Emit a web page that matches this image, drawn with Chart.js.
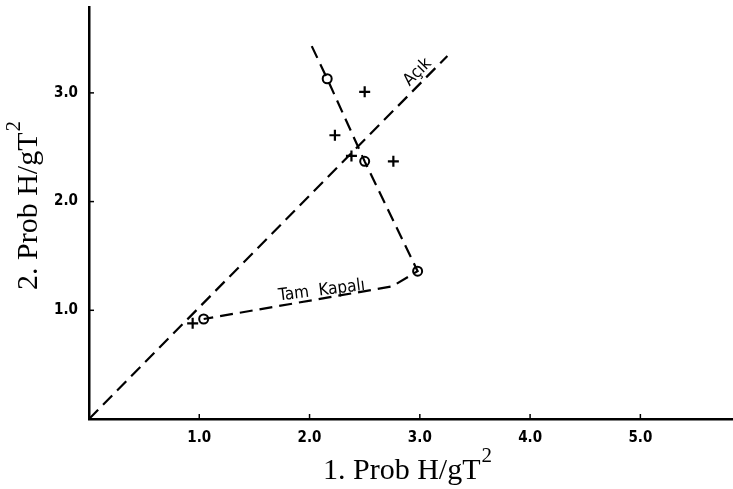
<!DOCTYPE html>
<html>
<head>
<meta charset="utf-8">
<script src="https://cdn.jsdelivr.net/npm/chart.js@4/dist/chart.umd.min.js"></script>
<style>
  html, body { margin: 0; padding: 0; background: #fff; overflow: hidden; }
  #chart { display: block; }
</style>
</head>
<body>
<canvas id="chart" width="733" height="489"></canvas>
<script>
// Axis ticks
const xTickValues = [1, 2, 3, 4, 5];
const xTickLabels = ['1.0', '2.0', '3.0', '4.0', '5.0'];
const yTickValues = [1, 2, 3];
const yTickLabels = ['1.0', '2.0', '3.0'];

// "Açık" line, from the origin
const acikX = [0, 3.25];
const acikY = [0, 3.34];

// "Tam Kapalı" line
const kapaliX = [2.02, 2.16, 2.50, 2.98, 2.75, 1.04];
const kapaliY = [3.43, 3.13, 2.37, 1.36, 1.22, 0.92];

// open circles
const circleX = [2.16, 2.50, 2.98, 1.04];
const circleY = [3.13, 2.37, 1.36, 0.92];

// plus markers
const plusX = [2.50, 2.23, 2.38, 2.76, 0.94];
const plusY = [3.01, 2.61, 2.42, 2.37, 0.88];

function toPoints(xs, ys) {
  return xs.map((x, i) => ({ x: x, y: ys[i] }));
}

const tickFont = { family: '"DejaVu Sans Condensed", "DejaVu Sans", sans-serif', size: 15, weight: 'bold' };
const serif = '"Liberation Serif", "Times New Roman", serif';

function noScalePadding(scale) {
  scale.paddingTop = 0;
  scale.paddingBottom = 0;
  scale.paddingLeft = 0;
  scale.paddingRight = 0;
}

// short tick marks pointing into the plot
const innerTicks = {
  id: 'innerTicks',
  afterDraw(chart) {
    const ctx = chart.ctx;
    const xs = chart.scales.x, ys = chart.scales.y;
    const area = chart.chartArea;
    ctx.save();
    ctx.strokeStyle = '#000';
    ctx.lineWidth = 1.5;
    xTickValues.forEach(v => {
      const px = xs.getPixelForValue(v);
      ctx.beginPath();
      ctx.moveTo(px, area.bottom);
      ctx.lineTo(px, area.bottom - 5);
      ctx.stroke();
    });
    yTickValues.forEach(v => {
      const py = ys.getPixelForValue(v);
      ctx.beginPath();
      ctx.moveTo(area.left, py);
      ctx.lineTo(area.left + 5, py);
      ctx.stroke();
    });
    ctx.restore();
  }
};

// axis titles with a real superscript "2"
function drawTitle(ctx, main, sup, cx, baseY) {
  ctx.font = '30px ' + serif;
  const w1 = ctx.measureText(main).width;
  ctx.font = '21px ' + serif;
  const w2 = ctx.measureText(sup).width;
  const start = cx - (w1 + w2) / 2;
  ctx.textAlign = 'left';
  ctx.textBaseline = 'alphabetic';
  ctx.font = '30px ' + serif;
  ctx.fillText(main, start, baseY);
  ctx.font = '21px ' + serif;
  ctx.fillText(sup, start + w1 + 1, baseY - 17);
}

const axisTitles = {
  id: 'axisTitles',
  afterDraw(chart) {
    const ctx = chart.ctx;
    const area = chart.chartArea;
    ctx.save();
    ctx.fillStyle = '#000';
    drawTitle(ctx, '1. Prob H/gT', '2', (area.left + area.right) / 2 - 4, 479);
    ctx.translate(37, (area.top + area.bottom) / 2 - 7);
    ctx.rotate(-Math.PI / 2);
    drawTitle(ctx, '2. Prob H/gT', '2', 0, 0);
    ctx.restore();
  }
};

// curve names written along the lines
const curveLabels = {
  id: 'curveLabels',
  afterDatasetsDraw(chart) {
    const ctx = chart.ctx;
    const xs = chart.scales.x, ys = chart.scales.y;
    const items = [
      { text: 'Açık', x: 2.98, y: 3.19, angle: -45 },
      { text: 'Tam  Kapalı', x: 2.11, y: 1.18, angle: -7 }
    ];
    ctx.save();
    ctx.fillStyle = '#000';
    ctx.font = '17px "DejaVu Sans Condensed", "DejaVu Sans", sans-serif';
    ctx.textAlign = 'center';
    ctx.textBaseline = 'middle';
    items.forEach(it => {
      ctx.save();
      ctx.translate(xs.getPixelForValue(it.x), ys.getPixelForValue(it.y));
      ctx.rotate(it.angle * Math.PI / 180);
      ctx.fillText(it.text, 0, 0);
      ctx.restore();
    });
    ctx.restore();
  }
};

new Chart(document.getElementById('chart'), {
  type: 'scatter',
  data: {
    datasets: [
      {
        label: 'Açık',
        data: toPoints(acikX, acikY),
        showLine: true,
        borderColor: '#000',
        borderWidth: 2.2,
        borderDash: [13, 7],
        pointRadius: 0
      },
      {
        label: 'Tam Kapalı',
        data: toPoints(kapaliX, kapaliY),
        showLine: true,
        borderColor: '#000',
        borderWidth: 2.2,
        borderDash: [13, 7],
        pointRadius: 0
      },
      {
        label: 'circles',
        data: toPoints(circleX, circleY),
        pointStyle: 'circle',
        pointRadius: 4.5,
        pointBorderWidth: 2,
        pointBorderColor: '#000',
        pointBackgroundColor: '#fff'
      },
      {
        label: 'plus',
        data: toPoints(plusX, plusY),
        pointStyle: 'cross',
        pointRadius: 5.5,
        pointBorderWidth: 2.2,
        pointBorderColor: '#000'
      }
    ]
  },
  options: {
    responsive: false,
    animation: false,
    layout: { autoPadding: false, padding: { top: 7, right: 0, bottom: 0, left: 0 } },
    plugins: {
      legend: { display: false },
      tooltip: { enabled: false }
    },
    scales: {
      x: {
        type: 'linear',
        min: 0,
        max: 5.84,
        grid: { display: false, drawTicks: false },
        border: { display: true, color: '#000', width: 2.5 },
        afterBuildTicks: scale => { scale.ticks = xTickValues.map(v => ({ value: v })); },
        afterFit: scale => { scale.height = 70; noScalePadding(scale); },
        ticks: {
          color: '#000',
          font: tickFont,
          padding: 10,
          maxRotation: 0,
          callback: (v, i) => xTickLabels[i]
        }
      },
      y: {
        type: 'linear',
        min: 0,
        max: 3.79,
        grid: { display: false, drawTicks: false },
        border: { display: true, color: '#000', width: 2.5 },
        afterBuildTicks: scale => { scale.ticks = yTickValues.map(v => ({ value: v })); },
        afterFit: scale => { scale.width = 89; noScalePadding(scale); },
        ticks: {
          color: '#000',
          font: tickFont,
          padding: 11,
          callback: (v, i) => yTickLabels[i]
        }
      }
    }
  },
  plugins: [innerTicks, curveLabels, axisTitles]
});
</script>
</body>
</html>
